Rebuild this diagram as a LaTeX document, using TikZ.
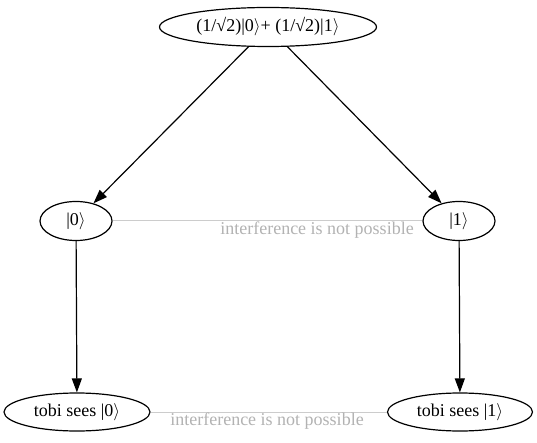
\documentclass[tikz,border=0pt]{standalone}
\usepackage{fontspec}
\setmainfont{Liberation Serif}
\usetikzlibrary{shapes.geometric,arrows.meta}
\newcommand{\ketr}{$\rangle$}
\begin{document}
\begin{tikzpicture}[x=1pt,y=-1pt,
  st/.style={draw,ellipse,line width=1.2pt,font=\fontsize{18}{20}\selectfont,inner sep=0pt},
  arr/.style={line width=1.2pt,-{Triangle[length=14pt,width=10pt]}},
  intf/.style={draw=black!20,line width=1pt},
  lbl/.style={text=black!30,font=\fontsize{18}{20}\selectfont}]
\useasboundingbox (0,0) rectangle (537,443);
\node[st,minimum width=217pt,minimum height=39pt] (top) at (268,27) {(1/√2)|0\ketr+ (1/√2)|1\ketr};
\node[st,minimum width=72pt,minimum height=39pt] (z) at (76,221) {|0\ketr};
\node[st,minimum width=72pt,minimum height=39pt] (o) at (459,221) {|1\ketr};
\node[st,minimum width=146pt,minimum height=38pt] (tz) at (77,412) {tobi sees |0\ketr};
\node[st,minimum width=145pt,minimum height=38pt] (to) at (460,412) {tobi sees |1\ketr};
\draw[arr] (top) -- (z);
\draw[arr] (top) -- (o);
\draw[arr] (z) -- (tz);
\draw[arr] (o) -- (to);
\draw[intf] (z) -- (o);
\draw[intf] (tz) -- (to);
\node[lbl] (l1) at (317,230) {interference is not possible};
\node[lbl] (l2) at (267,421) {interference is not possible};
\end{tikzpicture}
\end{document}
